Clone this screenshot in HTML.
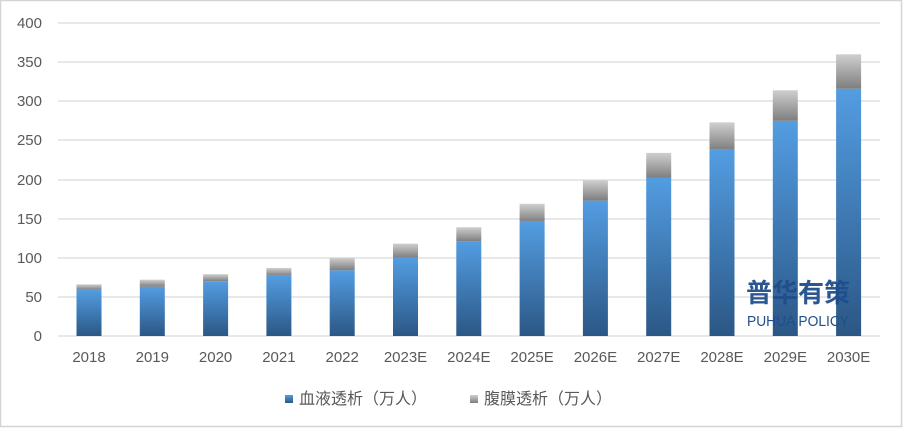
<!DOCTYPE html>
<html><head><meta charset="utf-8"><style>
html,body{margin:0;padding:0;background:#fff}
svg{display:block}
text{font-family:"Liberation Sans","Noto Sans CJK SC",sans-serif}
</style></head><body>
<svg width="903" height="428" viewBox="0 0 903 428" xmlns="http://www.w3.org/2000/svg">
<defs>
<linearGradient id="b" x1="0" y1="0" x2="0" y2="1"><stop offset="0" stop-color="#539de2"/><stop offset="1" stop-color="#2b5785"/></linearGradient>
<linearGradient id="g" x1="0" y1="0" x2="0" y2="1"><stop offset="0" stop-color="#cfcfcf"/><stop offset="1" stop-color="#7e7e7e"/></linearGradient>
</defs>
<rect x="0.5" y="0.5" width="901" height="426" fill="#fff" stroke="#d4d4d4" stroke-width="1.5"/>
<g stroke="#d9d9d9" stroke-width="1.3">
<line x1="58" x2="880" y1="23" y2="23"/><line x1="58" x2="880" y1="62" y2="62"/><line x1="58" x2="880" y1="101" y2="101"/><line x1="58" x2="880" y1="140" y2="140"/><line x1="58" x2="880" y1="180" y2="180"/><line x1="58" x2="880" y1="219" y2="219"/><line x1="58" x2="880" y1="258" y2="258"/><line x1="58" x2="880" y1="297" y2="297"/><line x1="58" x2="880" y1="336" y2="336"/>
</g>
<g font-size="15" fill="#595959" text-anchor="end">
<text x="42" y="28">400</text><text x="42" y="67">350</text><text x="42" y="106">300</text><text x="42" y="145">250</text><text x="42" y="185">200</text><text x="42" y="224">150</text><text x="42" y="263">100</text><text x="42" y="302">50</text><text x="42" y="341">0</text>
</g>
<g id="bars"></g>
<g font-size="15" fill="#595959" text-anchor="middle" id="labels"></g>
<text x="798" y="302" font-size="26" font-weight="bold" fill="#1f4e8c" text-anchor="middle" font-family="'Noto Sans CJK SC',sans-serif" opacity="0.95">普华有策</text>
<text x="798" y="326" font-size="15" fill="#1f4e8c" text-anchor="middle" textLength="102" lengthAdjust="spacingAndGlyphs">PUHUA POLICY</text>
<rect x="285" y="395" width="8" height="8" fill="url(#b)"/>
<text x="299" y="404" font-size="16" fill="#595959">血液透析（万人）</text>
<rect x="470" y="395" width="8" height="8" fill="url(#g)"/>
<text x="484" y="404" font-size="16" fill="#595959">腹膜透析（万人）</text>
<script>
var L=["2018","2019","2020","2021","2022","2023E","2024E","2025E","2026E","2027E","2028E","2029E","2030E"];
var B=[59,63,70,77,84,100,121,146,173,202,238,275,316];
var T=[66,72,79,87,100,118,139,169,199,234,273,314,360];
var ns="http://www.w3.org/2000/svg",bg=document.getElementById("bars"),lg=document.getElementById("labels");
for(var i=0;i<13;i++){var c=89+i*63.3,k=0.7825;
var yb=336-B[i]*k,yt=336-T[i]*k;
var r=document.createElementNS(ns,"rect");r.setAttribute("x",c-12.5);r.setAttribute("width",25);r.setAttribute("y",yb);r.setAttribute("height",336-yb);r.setAttribute("fill","url(#b)");bg.appendChild(r);
r=document.createElementNS(ns,"rect");r.setAttribute("x",c-12.5);r.setAttribute("width",25);r.setAttribute("y",yt);r.setAttribute("height",yb-yt);r.setAttribute("fill","url(#g)");bg.appendChild(r);
var t=document.createElementNS(ns,"text");t.setAttribute("x",c);t.setAttribute("y",362);t.textContent=L[i];lg.appendChild(t);}
</script>
</svg>
</body></html>
